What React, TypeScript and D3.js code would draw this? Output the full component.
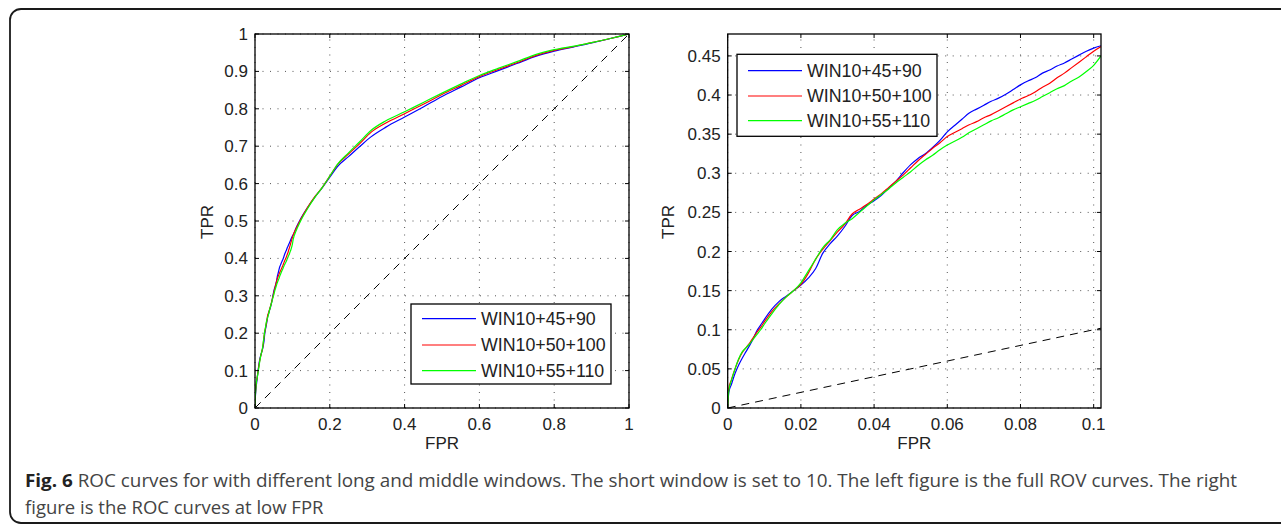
import React from "react";
import * as d3 from "d3";

// ---------- data ----------
const seriesNames = ["WIN10+45+90", "WIN10+50+100", "WIN10+55+110"];
const seriesColors = ["#0000ff", "#ff0000", "#00ff00"];

const lowFpr = [
  0, 0.0003, 0.001, 0.002, 0.003, 0.004, 0.005, 0.006, 0.007, 0.008, 0.009, 0.01,
  0.012, 0.014, 0.016, 0.018, 0.02, 0.022, 0.024, 0.026, 0.028, 0.03,
  0.032, 0.034, 0.036, 0.038, 0.04, 0.042, 0.044, 0.046, 0.048, 0.05,
  0.052, 0.054, 0.056, 0.058, 0.06, 0.062, 0.064, 0.066, 0.068, 0.07,
  0.072, 0.074, 0.076, 0.078, 0.08, 0.082, 0.084, 0.086, 0.088, 0.09,
  0.092, 0.094, 0.096, 0.098, 0.1, 0.102,
];
const blueLowTpr = [
  0, 0.02, 0.03, 0.044, 0.055, 0.064, 0.072, 0.08, 0.089, 0.099, 0.106, 0.113,
  0.126, 0.136, 0.143, 0.15, 0.157, 0.166, 0.178, 0.198, 0.21, 0.22,
  0.232, 0.246, 0.251, 0.259, 0.265, 0.272, 0.281, 0.29, 0.301, 0.311,
  0.319, 0.325, 0.333, 0.342, 0.353, 0.361, 0.369, 0.377, 0.382, 0.387,
  0.392, 0.396, 0.401, 0.407, 0.413, 0.418, 0.422, 0.428, 0.432, 0.437,
  0.441, 0.446, 0.451, 0.456, 0.46, 0.463,
];
const redLowTpr = [
  0, 0.025, 0.036, 0.05, 0.062, 0.071, 0.077, 0.083, 0.09, 0.097, 0.103, 0.11,
  0.123, 0.133, 0.142, 0.15, 0.158, 0.172, 0.19, 0.203, 0.214, 0.225,
  0.235, 0.248, 0.254, 0.26, 0.267, 0.274, 0.282, 0.29, 0.298, 0.307,
  0.316, 0.324, 0.332, 0.339, 0.347, 0.352, 0.357, 0.362, 0.366, 0.371,
  0.375, 0.38, 0.385, 0.39, 0.395, 0.399, 0.404, 0.41, 0.415, 0.422,
  0.428, 0.435, 0.442, 0.449, 0.456, 0.462,
];
const greenLowTpr = [
  0, 0.022, 0.035, 0.05, 0.063, 0.072, 0.077, 0.082, 0.088, 0.094, 0.1, 0.107,
  0.12, 0.132, 0.142, 0.15, 0.16, 0.175, 0.19, 0.205, 0.215, 0.228,
  0.236, 0.242, 0.25, 0.258, 0.266, 0.273, 0.28, 0.288, 0.295, 0.302,
  0.31, 0.317, 0.323, 0.33, 0.336, 0.341, 0.346, 0.352, 0.357, 0.362,
  0.367, 0.371, 0.376, 0.381, 0.385, 0.389, 0.393, 0.398, 0.403, 0.408,
  0.412, 0.418, 0.423, 0.43, 0.438, 0.45,
];

const highFpr = [
  0.11, 0.12, 0.14, 0.16, 0.18, 0.2, 0.22, 0.25, 0.28, 0.31, 0.35, 0.4,
  0.45, 0.5, 0.55, 0.6, 0.65, 0.7, 0.75, 0.8, 0.85, 0.9, 0.95, 1,
];
const blueHighTpr = [
  0.482, 0.502, 0.535, 0.564, 0.589, 0.617, 0.645, 0.672, 0.699, 0.725, 0.751, 0.778,
  0.805, 0.833, 0.858, 0.883, 0.902, 0.921, 0.94, 0.954, 0.965, 0.976, 0.988, 1,
];
const redHighTpr = [
  0.48, 0.5, 0.535, 0.565, 0.59, 0.62, 0.65, 0.679, 0.707, 0.737, 0.762, 0.787,
  0.812, 0.838, 0.862, 0.886, 0.905, 0.923, 0.942, 0.956, 0.966, 0.977, 0.988, 1,
];
const greenHighTpr = [
  0.474, 0.496, 0.532, 0.563, 0.59, 0.62, 0.651, 0.682, 0.712, 0.742, 0.768, 0.792,
  0.817, 0.842, 0.866, 0.889, 0.908, 0.926, 0.945, 0.958, 0.967, 0.977, 0.988, 1,
];

const leftXTicks = [0, 0.2, 0.4, 0.6, 0.8, 1];
const leftXTickLabels = ["0", "0.2", "0.4", "0.6", "0.8", "1"];
const leftYTicks = [0, 0.1, 0.2, 0.3, 0.4, 0.5, 0.6, 0.7, 0.8, 0.9, 1];
const leftYTickLabels = ["0", "0.1", "0.2", "0.3", "0.4", "0.5", "0.6", "0.7", "0.8", "0.9", "1"];
const rightXTicks = [0, 0.02, 0.04, 0.06, 0.08, 0.1];
const rightXTickLabels = ["0", "0.02", "0.04", "0.06", "0.08", "0.1"];
const rightYTicks = [0, 0.05, 0.1, 0.15, 0.2, 0.25, 0.3, 0.35, 0.4, 0.45];
const rightYTickLabels = ["0", "0.05", "0.1", "0.15", "0.2", "0.25", "0.3", "0.35", "0.4", "0.45"];

const captionBold = "Fig. 6";
const captionLine1 =
  " ROC curves for with different long and middle windows. The short window is set to 10. The left figure is the full ROV curves. The right";
const captionLine2 = "figure is the ROC curves at low FPR";

// ---------- helpers ----------
const FONT = "'Liberation Sans', Arial, Helvetica, sans-serif";
const CAP_FONT = "'Open Sans', 'Noto Sans', sans-serif";

type Pt = [number, number];
const zip = (xs: number[], ys: number[]): Pt[] => xs.map((x, i) => [x, ys[i]]);

const lowSeries = [zip(lowFpr, blueLowTpr), zip(lowFpr, redLowTpr), zip(lowFpr, greenLowTpr)];
const highSeries = [zip(highFpr, blueHighTpr), zip(highFpr, redHighTpr), zip(highFpr, greenHighTpr)];
const fullSeries = lowSeries.map((s, i) => s.concat(highSeries[i]));

type PanelProps = {
  id: string;
  x: d3.ScaleLinear<number, number>;
  y: d3.ScaleLinear<number, number>;
  xTicks: number[];
  xLabels: string[];
  yTicks: number[];
  yLabels: string[];
  series: Pt[][];
  diagEnd: number;
  legend: { x0: number; y0: number; w: number; h: number; rowY: number[] };
  yLabelX: number;
};

function Panel(p: PanelProps) {
  const [x0, x1] = p.x.range();
  const [y0, y1] = p.y.range(); // y0 bottom, y1 top
  const line = d3
    .line<Pt>()
    .x((d) => p.x(d[0]))
    .y((d) => p.y(d[1]))
    .curve(d3.curveMonotoneX);
  const tickLen = 4;
  return (
    <g>
      <defs>
        <clipPath id={p.id}>
          <rect x={x0} y={y1} width={x1 - x0} height={y0 - y1} />
        </clipPath>
      </defs>
      <rect x={x0} y={y1} width={x1 - x0} height={y0 - y1} fill="#fff" />
      {/* grid */}
      {p.xTicks.map((t) => (
        <line key={"gx" + t} x1={p.x(t)} x2={p.x(t)} y1={y0} y2={y1} stroke="#555" strokeWidth={1} strokeDasharray="1,6.5" />
      ))}
      {p.yTicks.map((t) => (
        <line key={"gy" + t} x1={x0} x2={x1} y1={p.y(t)} y2={p.y(t)} stroke="#555" strokeWidth={1} strokeDasharray="1,6.5" />
      ))}
      <g clipPath={`url(#${p.id})`}>
        <line
          x1={p.x(0)}
          y1={p.y(0)}
          x2={p.x(p.diagEnd)}
          y2={p.y(p.diagEnd)}
          stroke="#000"
          strokeWidth={1}
          strokeDasharray="8,6"
        />
        {p.series.map((s, i) => (
          <path key={"s" + i} d={line(s) || ""} fill="none" stroke={seriesColors[i]} strokeWidth={1.2} />
        ))}
      </g>
      {/* ticks */}
      {p.xTicks.map((t) => (
        <g key={"tx" + t}>
          <line x1={p.x(t)} x2={p.x(t)} y1={y0} y2={y0 - tickLen} stroke="#000" />
          <line x1={p.x(t)} x2={p.x(t)} y1={y1} y2={y1 + tickLen} stroke="#000" />
        </g>
      ))}
      {p.yTicks.map((t) => (
        <g key={"ty" + t}>
          <line x1={x0} x2={x0 + tickLen} y1={p.y(t)} y2={p.y(t)} stroke="#000" />
          <line x1={x1} x2={x1 - tickLen} y1={p.y(t)} y2={p.y(t)} stroke="#000" />
        </g>
      ))}
      <rect x={x0} y={y1} width={x1 - x0} height={y0 - y1} fill="none" stroke="#000" strokeWidth={1.3} />
      {/* tick labels */}
      {p.xTicks.map((t, i) => (
        <text key={"lx" + t} x={p.x(t)} y={430} textAnchor="middle" fontSize={17} fontFamily={FONT} fill="#222">
          {p.xLabels[i]}
        </text>
      ))}
      {p.yTicks.map((t, i) => (
        <text
          key={"ly" + t}
          x={x0 - 7}
          y={p.y(t) + 6}
          textAnchor="end"
          fontSize={17}
          fontFamily={FONT}
          fill="#222"
        >
          {p.yLabels[i]}
        </text>
      ))}
      <text x={(x0 + x1) / 2} y={449} textAnchor="middle" fontSize={17} fontFamily={FONT} fill="#222">
        FPR
      </text>
      <text
        transform={`translate(${p.yLabelX},${(y0 + y1) / 2 + 1}) rotate(-90)`}
        textAnchor="middle"
        y={6}
        fontSize={17}
        fontFamily={FONT}
        fill="#222"
      >
        TPR
      </text>
      {/* legend */}
      <rect x={p.legend.x0} y={p.legend.y0} width={p.legend.w} height={p.legend.h} fill="#fff" stroke="#000" strokeWidth={1.3} />
      {seriesNames.map((n, i) => (
        <g key={"lg" + i}>
          <line
            x1={p.legend.x0 + 11}
            x2={p.legend.x0 + 65}
            y1={p.legend.rowY[i]}
            y2={p.legend.rowY[i]}
            stroke={seriesColors[i]}
            strokeWidth={1.2}
          />
          <text x={p.legend.x0 + 70} y={p.legend.rowY[i] + 6.3} fontSize={17.8} fontFamily={FONT} fill="#222">
            {n}
          </text>
        </g>
      ))}
    </g>
  );
}

export default function App() {
  const xL = d3.scaleLinear().domain([0, 1]).range([255, 629]);
  const yL = d3.scaleLinear().domain([0, 1]).range([408, 34]);
  const xR = d3.scaleLinear().domain([0, 0.102]).range([727.7, 1101]);
  const yR = d3.scaleLinear().domain([0, 0.478]).range([408, 34]);

  return (
    <svg
      width={1281}
      height={524}
      style={{ position: "absolute", left: 0, top: 0, display: "block", background: "#fff" }}
    >
      <rect x={0} y={0} width={1281} height={524} fill="#fff" />
      <rect x={10} y={9} width={1300} height={514} rx={11} ry={11} fill="none" stroke="#1a1a1a" strokeWidth={1.8} />
      <Panel
        id="clipL"
        x={xL}
        y={yL}
        xTicks={leftXTicks}
        xLabels={leftXTickLabels}
        yTicks={leftYTicks}
        yLabels={leftYTickLabels}
        series={fullSeries}
        diagEnd={1}
        legend={{ x0: 411, y0: 304, w: 200, h: 80, rowY: [318.7, 345, 370.7] }}
        yLabelX={207}
      />
      <Panel
        id="clipR"
        x={xR}
        y={yR}
        xTicks={rightXTicks}
        xLabels={rightXTickLabels}
        yTicks={rightYTicks}
        yLabels={rightYTickLabels}
        series={lowSeries}
        diagEnd={0.102}
        legend={{ x0: 737, y0: 54.3, w: 200, h: 82, rowY: [70.7, 96, 120.7] }}
        yLabelX={668}
      />
      <text
        x={25}
        y={487}
        fontSize={18.5}
        fontFamily={CAP_FONT}
        fill="#444"
        textLength={1212}
        lengthAdjust="spacingAndGlyphs"
      >
        <tspan fontWeight="bold" fill="#222">
          {captionBold}
        </tspan>
        {captionLine1}
      </text>
      <text x={25} y={514} fontSize={18.5} fontFamily={CAP_FONT} fill="#444">
        {captionLine2}
      </text>
    </svg>
  );
}
